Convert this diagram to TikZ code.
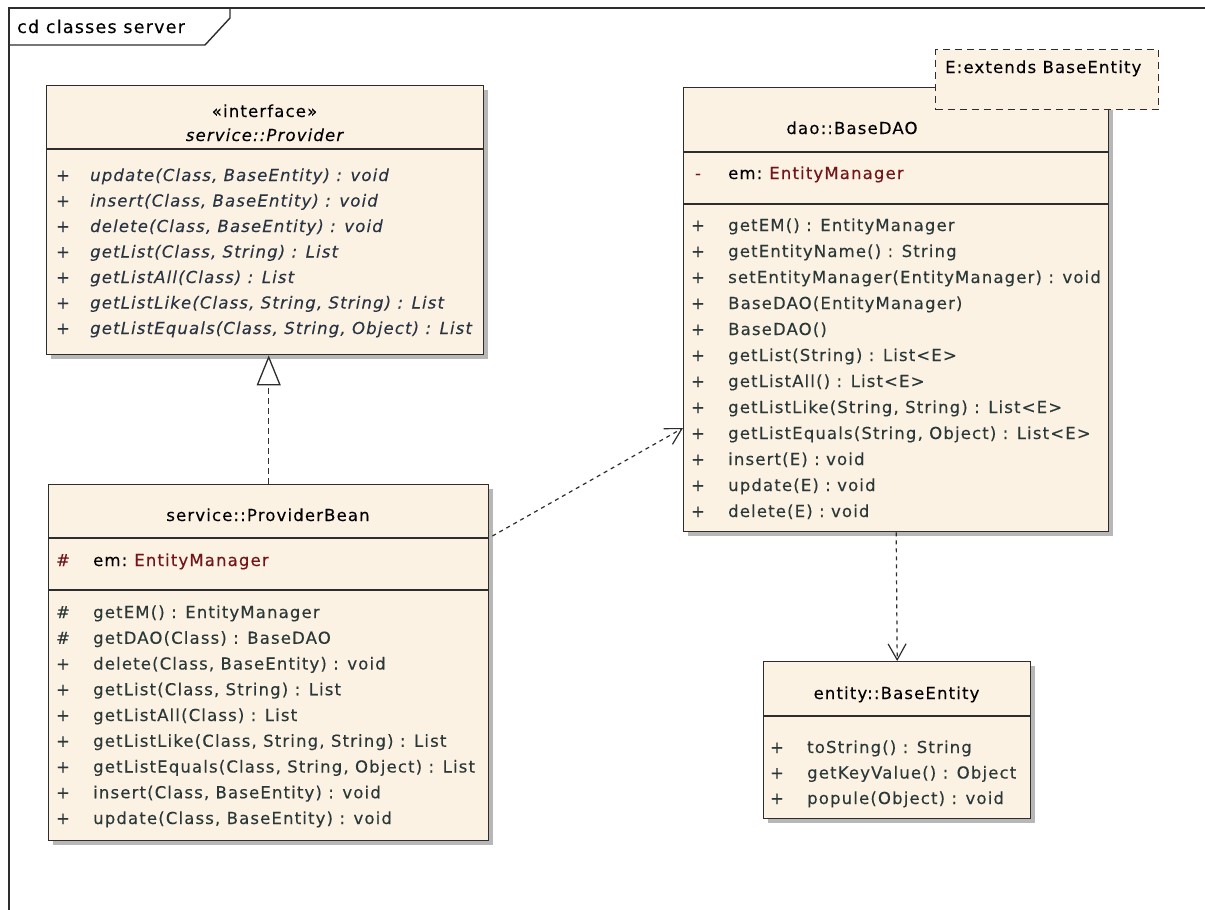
\documentclass[tikz,border=0pt]{standalone}
\usepackage{fontspec}
\setmainfont{DejaVu Sans}
\newfontfamily\umlfont[LetterSpace=7,FakeBold=0.25]{DejaVu Sans}
\usetikzlibrary{arrows.meta,calc,shadows}
\definecolor{boxfill}{RGB}{252,242,228}
\definecolor{boxline}{RGB}{45,45,45}
\definecolor{optext}{RGB}{42,56,56}
\definecolor{ifacetext}{RGB}{40,52,66}
\definecolor{typetext}{RGB}{115,20,25}
\definecolor{shade}{RGB}{165,165,165}
\tikzset{
  classbox/.style={draw=boxline, line width=1.4pt, fill=boxfill, inner sep=0pt,
    anchor=north west, drop shadow={shadow xshift=4pt, shadow yshift=-4pt, fill=shade, opacity=0.8}},
  tmplbox/.style={draw=boxline, line width=1.4pt, fill=boxfill, inner sep=0pt,
    anchor=north west, dash pattern=on 7pt off 5pt},
  sepline/.style={draw=boxline, line width=1.4pt},
  frameline/.style={draw=boxline, line width=1.4pt},
  txt/.style={font=\umlfont\fontsize{16.5}{19}\selectfont, inner sep=0pt},
  title/.style={txt, anchor=base, text=black},
  vis/.style={txt, anchor=base, text=optext},
  op/.style={txt, anchor=base west, text=optext},
  iop/.style={txt, anchor=base west, text=ifacetext, font=\umlfont\itshape\fontsize{16.5}{19}\selectfont},
  realize/.style={draw=boxline, line width=1.3pt, dash pattern=on 6pt off 4pt,
    -{Triangle[open, length=30pt, width=24pt, fill=white, line width=1.3pt]}},
  depend/.style={draw=boxline, line width=1.2pt, dash pattern=on 4pt off 4pt,
    -{Straight Barb[length=16pt, width=18pt, line width=1.2pt]}},
}
\begin{document}
\begin{tikzpicture}[x=1pt, y=-1pt]
\fill[white] (0,0) rectangle (1205,910);
\useasboundingbox (0,0) rectangle (1205,910);

% diagram frame with its name tab
\draw[frameline] (9,910) -- (9,8) -- (1205,8);
\draw[frameline] (9,45) -- (205,45) -- (230,18) -- (230,8);
\node[txt, anchor=base west, font=\umlfont\fontsize{17.5}{20}\selectfont] (flabel) at (17,33) {cd classes server};

% ---------- interface service::Provider ----------
\node[classbox, minimum width=437pt, minimum height=269pt] (iface) at (46,85) {};
\draw[sepline] (46,149) -- (483,149);
\node[title] (ist) at (264.5,117) {«interface»};
\node[title, font=\umlfont\itshape\fontsize{16.5}{19}\selectfont] (iname) at (264.5,141) {service::Provider};
\node[vis, text=ifacetext] (iv1) at (63,181) {+};
\node[iop] (io1) at (90,181) {update(Class, BaseEntity) : void};
\node[vis, text=ifacetext] (iv2) at (63,206.5) {+};
\node[iop] (io2) at (90,206.5) {insert(Class, BaseEntity) : void};
\node[vis, text=ifacetext] (iv3) at (63,232) {+};
\node[iop] (io3) at (90,232) {delete(Class, BaseEntity) : void};
\node[vis, text=ifacetext] (iv4) at (63,257.5) {+};
\node[iop] (io4) at (90,257.5) {getList(Class, String) : List};
\node[vis, text=ifacetext] (iv5) at (63,283) {+};
\node[iop] (io5) at (90,283) {getListAll(Class) : List};
\node[vis, text=ifacetext] (iv6) at (63,308.5) {+};
\node[iop] (io6) at (90,308.5) {getListLike(Class, String, String) : List};
\node[vis, text=ifacetext] (iv7) at (63,334) {+};
\node[iop] (io7) at (90,334) {getListEquals(Class, String, Object) : List};

% ---------- class service::ProviderBean ----------
\node[classbox, minimum width=440pt, minimum height=356pt] (bean) at (48,484) {};
\draw[sepline] (48,538) -- (488,538);
\draw[sepline] (48,590) -- (488,590);
\node[title] (bname) at (268,521) {service::ProviderBean};
\node[vis, text=typetext] (bav) at (63,566) {\#};
\node[op, text=black] (ba) at (93,566) {em:\hspace{7pt}\textcolor{typetext}{EntityManager}};
\node[vis] (bv1) at (63,618) {\#};
\node[op] (bo1) at (93,618) {getEM() : EntityManager};
\node[vis] (bv2) at (63,643.75) {\#};
\node[op] (bo2) at (93,643.75) {getDAO(Class) : BaseDAO};
\node[vis] (bv3) at (63,669.5) {+};
\node[op] (bo3) at (93,669.5) {delete(Class, BaseEntity) : void};
\node[vis] (bv4) at (63,695.25) {+};
\node[op] (bo4) at (93,695.25) {getList(Class, String) : List};
\node[vis] (bv5) at (63,721) {+};
\node[op] (bo5) at (93,721) {getListAll(Class) : List};
\node[vis] (bv6) at (63,746.75) {+};
\node[op] (bo6) at (93,746.75) {getListLike(Class, String, String) : List};
\node[vis] (bv7) at (63,772.5) {+};
\node[op] (bo7) at (93,772.5) {getListEquals(Class, String, Object) : List};
\node[vis] (bv8) at (63,798.25) {+};
\node[op] (bo8) at (93,798.25) {insert(Class, BaseEntity) : void};
\node[vis] (bv9) at (63,824) {+};
\node[op] (bo9) at (93,824) {update(Class, BaseEntity) : void};

% ---------- class dao::BaseDAO with template parameter ----------
\node[classbox, minimum width=425pt, minimum height=444pt] (dao) at (683,87) {};
\draw[sepline] (683,152) -- (1108,152);
\draw[sepline] (683,204) -- (1108,204);
\node[tmplbox, minimum width=223pt, minimum height=60pt] (tmpl) at (935,49) {};
\node[op, text=black] (tmpltext) at (945,73) {E:extends BaseEntity};
\node[title] (dname) at (852,134) {dao::BaseDAO};
\node[vis, text=typetext] (dav) at (698,179) {-};
\node[op, text=black] (da) at (728,179) {em:\hspace{7pt}\textcolor{typetext}{EntityManager}};
\node[vis] (dv1) at (698,231) {+};
\node[op] (do1) at (728,231) {getEM() : EntityManager};
\node[vis] (dv2) at (698,257) {+};
\node[op] (do2) at (728,257) {getEntityName() : String};
\node[vis] (dv3) at (698,283) {+};
\node[op] (do3) at (728,283) {setEntityManager(EntityManager) : void};
\node[vis] (dv4) at (698,309) {+};
\node[op] (do4) at (728,309) {BaseDAO(EntityManager)};
\node[vis] (dv5) at (698,335) {+};
\node[op] (do5) at (728,335) {BaseDAO()};
\node[vis] (dv6) at (698,361) {+};
\node[op] (do6) at (728,361) {getList(String) : List<E>};
\node[vis] (dv7) at (698,387) {+};
\node[op] (do7) at (728,387) {getListAll() : List<E>};
\node[vis] (dv8) at (698,413) {+};
\node[op] (do8) at (728,413) {getListLike(String, String) : List<E>};
\node[vis] (dv9) at (698,439) {+};
\node[op] (do9) at (728,439) {getListEquals(String, Object) : List<E>};
\node[vis] (dv10) at (698,465) {+};
\node[op] (do10) at (728,465) {insert(E) : void};
\node[vis] (dv11) at (698,491) {+};
\node[op] (do11) at (728,491) {update(E) : void};
\node[vis] (dv12) at (698,517) {+};
\node[op] (do12) at (728,517) {delete(E) : void};

% ---------- class entity::BaseEntity ----------
\node[classbox, minimum width=267pt, minimum height=157pt] (entity) at (763,661) {};
\draw[sepline] (763,716) -- (1030,716);
\node[title] (ename) at (896.5,699) {entity::BaseEntity};
\node[vis] (ev1) at (777,753) {+};
\node[op] (eo1) at (807,753) {toString() : String};
\node[vis] (ev2) at (777,778.5) {+};
\node[op] (eo2) at (807,778.5) {getKeyValue() : Object};
\node[vis] (ev3) at (777,804) {+};
\node[op] (eo3) at (807,804) {popule(Object) : void};

% ---------- relationships ----------
\draw[realize] (bean.north) -- (bean.north |- iface.south);
\draw[depend] ($(bean.north east)+(3,52)$) -- ($(dao.north west)+(0,341)$);
\draw[depend] (dao.south) -- (entity.north);
\end{tikzpicture}
\end{document}
